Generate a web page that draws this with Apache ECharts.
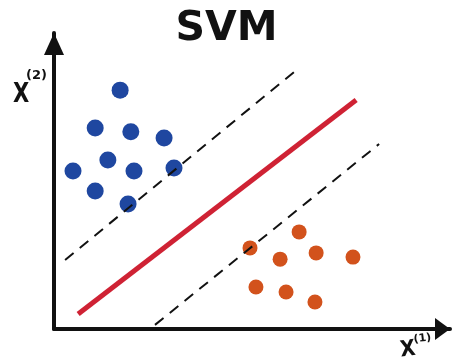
<!DOCTYPE html>
<html>
<head>
<meta charset="utf-8">
<script src="https://cdn.jsdelivr.net/npm/echarts@6/dist/echarts.min.js"></script>
<style>
  html, body { margin: 0; padding: 0; background: #fff; }
  #chart { width: 453px; height: 360px; }
</style>
</head>
<body>
<div id="chart"></div>
<script>
// feature space, both axes 0..100
const blueClass = [
  [16.7, 80.7], [10.4, 67.9], [19.4, 66.6], [27.8, 64.5], [13.6, 57.1],
  [20.2, 53.4], [30.3, 54.4], [4.8, 53.4], [10.4, 46.6], [18.7, 42.2],
]
const orangeClass = [
  [61.9, 32.8], [49.5, 27.4], [57.1, 23.6], [66.2, 25.7], [75.5, 24.3],
  [51.0, 14.2], [58.6, 12.5], [65.9, 9.1],
]
const hyperplane = [[6.1, 5.1], [76.3, 77.4]]
const marginUpper = [[2.8, 23.3], [60.6, 86.8]]
const marginLower = [[25.5, 1.4], [82.1, 62.5]]

const chart = echarts.init(document.getElementById('chart'))

const hidden = {
  axisTick: { show: false },
  axisLabel: { show: false },
  splitLine: { show: false },
}

chart.setOption({
  backgroundColor: '#fff',
  animation: false,
  title: {
    text: 'SVM',
    left: 'center',
    top: 4,
    textStyle: { fontFamily: 'DejaVu Sans', fontWeight: 'bold', fontSize: 41, color: '#111' },
  },
  grid: { left: 54, right: 3, top: 33, bottom: 31 },
  xAxis: {
    type: 'value',
    min: 0,
    max: 100,
    ...hidden,
    axisLine: {
      lineStyle: { color: '#111', width: 4 },
      symbol: ['none', 'triangle'],
      symbolSize: [22, 15],
      symbolOffset: [0, -7.5],
    },
  },
  yAxis: {
    type: 'value',
    min: 0,
    max: 100,
    ...hidden,
    axisLine: {
      lineStyle: { color: '#111', width: 4 },
      symbol: ['none', 'triangle'],
      symbolSize: [20, 22],
      symbolOffset: [0, -11],
    },
  },
  graphic: [
    {
      type: 'text', x: 13, y: 81, scaleX: 0.78,
      style: { text: 'X', font: 'bold 27px "DejaVu Sans"', fill: '#111' },
    },
    {
      type: 'text', left: 26, top: 69,
      style: { text: '(2)', font: 'bold 13px "DejaVu Sans"', fill: '#111' },
    },
    {
      type: 'text', left: 399, top: 338, rotation: 0.12,
      style: { text: 'X', font: 'bold 22px "DejaVu Sans Condensed", "DejaVu Sans"', fill: '#111' },
    },
    {
      type: 'text', left: 413, top: 332, rotation: 0.12,
      style: { text: '(1)', font: 'bold 11px "DejaVu Sans"', fill: '#111' },
    },
  ],
  series: [
    {
      type: 'line',
      data: marginUpper,
      showSymbol: false,
      lineStyle: { color: '#111', width: 2, type: [11, 8] },
    },
    {
      type: 'line',
      data: marginLower,
      showSymbol: false,
      lineStyle: { color: '#111', width: 2, type: [11, 8] },
    },
    {
      type: 'line',
      data: hyperplane,
      showSymbol: false,
      lineStyle: { color: '#cf2234', width: 5 },
    },
    {
      type: 'scatter',
      data: blueClass,
      symbolSize: 17,
      itemStyle: { color: '#1f47a0', opacity: 1 },
    },
    {
      type: 'scatter',
      data: orangeClass,
      symbolSize: 15,
      itemStyle: { color: '#d2521c', opacity: 1 },
    },
  ],
})
</script>
</body>
</html>
